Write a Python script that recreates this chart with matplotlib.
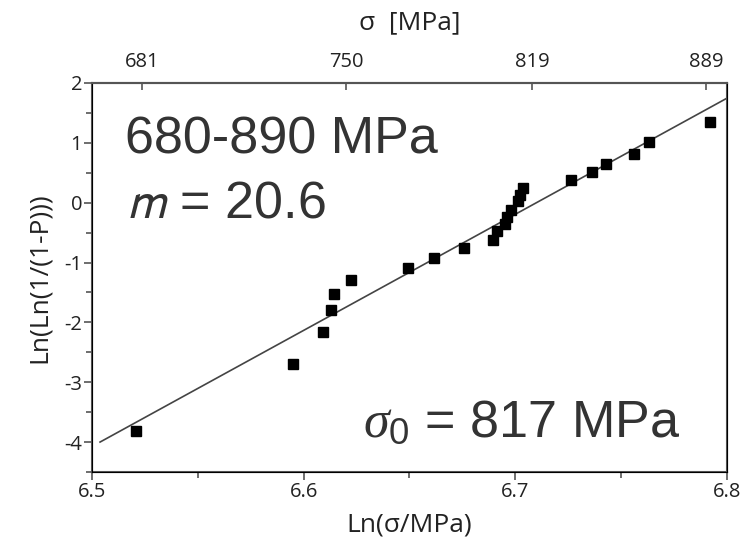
import numpy as np
import matplotlib
matplotlib.use("Agg")
import matplotlib.pyplot as plt
from matplotlib.ticker import MultipleLocator

# Weibull plot data
ln_sigma = [6.5206, 6.5948, 6.6090, 6.6129, 6.6145, 6.6225, 6.6494, 6.6617,
            6.6759, 6.6896, 6.6912, 6.6951, 6.6959, 6.6978, 6.7014, 6.7022,
            6.7034, 6.7263, 6.7360, 6.7427, 6.7562, 6.7631, 6.7919]
ln_ln_p = [-3.82, -2.69, -2.16, -1.80, -1.52, -1.29, -1.095, -0.917,
           -0.76, -0.617, -0.478, -0.355, -0.24, -0.117, 0.022, 0.133,
           0.245, 0.372, 0.51, 0.645, 0.81, 1.01, 1.355]

# fitted line
fit_slope = 19.4
fit_x0 = 6.71
fit_range = [6.5038, 6.8]

top_ticks = [681, 750, 819, 889]

tick_font = ['Open Sans', 'DejaVu Sans']
plt.rcParams['axes.unicode_minus'] = False
plt.rcParams['mathtext.fontset'] = 'custom'
plt.rcParams['mathtext.it'] = 'Liberation Serif:italic'
plt.rcParams['mathtext.rm'] = 'Liberation Sans'

fig = plt.figure(figsize=(7.51, 5.42), dpi=100)
ax = fig.add_axes([0.1225, 0.1292, 0.8455, 0.7177])

fx = np.array(fit_range)
ax.plot(fx, fit_slope * (fx - fit_x0), color='#444444', lw=1.2, zorder=2)
ax.plot(ln_sigma, ln_ln_p, 's', color='black', ms=7, zorder=3)

ax.set_xlim(6.5, 6.8)
ax.set_ylim(-4.5, 2)
ax.xaxis.set_major_locator(MultipleLocator(0.1))
ax.xaxis.set_minor_locator(MultipleLocator(0.05))
ax.yaxis.set_major_locator(MultipleLocator(1))
ax.yaxis.set_minor_locator(MultipleLocator(0.5))
ax.tick_params(which='both', direction='out', color='#555555', width=1.2,
               labelsize=14.5, labelcolor='#222222', pad=1)
ax.tick_params(which='major', length=6)
ax.tick_params(which='minor', length=4)
ax.xaxis.set_minor_formatter(plt.NullFormatter())
for lab in ax.get_xticklabels() + ax.get_yticklabels():
    lab.set_family(tick_font)
for s in ax.spines.values():
    s.set_color('#555555')
    s.set_linewidth(1.5)

ax.set_xlabel('Ln(σ/MPa)', fontsize=19, family=tick_font, color='#222222', labelpad=8)
ax.set_ylabel('Ln(Ln(1/(1-P)))', fontsize=19, family=tick_font, color='#222222', labelpad=9)

# top axis in MPa
top = ax.twiny()
top.set_xlim(ax.get_xlim())
top.set_xticks(np.log(top_ticks))
top.set_xticklabels([str(t) for t in top_ticks])
top.tick_params(direction='in', length=5, width=1.2, color='#555555',
                labelsize=14.5, labelcolor='#222222', pad=8)
for lab in top.get_xticklabels():
    lab.set_family(tick_font)
top.spines['top'].set_color('#555555')
top.spines['top'].set_linewidth(1.5)
top.set_xlabel('σ  [MPa]', fontsize=19, family=tick_font, color='#222222', labelpad=16)

big = dict(fontsize=37.5, color='#333333', family='Liberation Sans', transform=fig.transFigure)
fig.text(125 / 751, 1 - 153 / 542, '680-890 MPa', **big)
fig.text(126 / 751, 1 - 218 / 542, r'$m$ = 20.6', math_fontfamily='stixsans', **big)
fig.text(363 / 751, 1 - 437 / 542, r'$\sigma_0$ = 817 MPa', **big)

fig.savefig('out.png', dpi=100)
